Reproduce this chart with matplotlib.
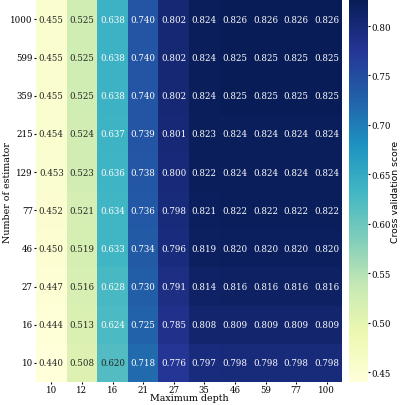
import numpy as np
import pandas as pd
import matplotlib
matplotlib.use("Agg")
import matplotlib.pyplot as plt
import seaborn as sns

# grid search results, rows from top (1000 estimators) to bottom (10)
n_estimators = [1000, 599, 359, 215, 129, 77, 46, 27, 16, 10]
max_depth = [10, 12, 16, 21, 27, 35, 46, 59, 77, 100]

scores = [
    [0.455, 0.525, 0.638, 0.740, 0.802, 0.824, 0.826, 0.826, 0.826, 0.826],
    [0.455, 0.525, 0.638, 0.740, 0.802, 0.824, 0.825, 0.825, 0.825, 0.825],
    [0.455, 0.525, 0.638, 0.740, 0.802, 0.824, 0.825, 0.825, 0.825, 0.825],
    [0.454, 0.524, 0.637, 0.739, 0.801, 0.823, 0.824, 0.824, 0.824, 0.824],
    [0.453, 0.523, 0.636, 0.738, 0.800, 0.822, 0.824, 0.824, 0.824, 0.824],
    [0.452, 0.521, 0.634, 0.736, 0.798, 0.821, 0.822, 0.822, 0.822, 0.822],
    [0.450, 0.519, 0.633, 0.734, 0.796, 0.819, 0.820, 0.820, 0.820, 0.820],
    [0.447, 0.516, 0.628, 0.730, 0.791, 0.814, 0.816, 0.816, 0.816, 0.816],
    [0.444, 0.513, 0.624, 0.725, 0.785, 0.808, 0.809, 0.809, 0.809, 0.809],
    [0.440, 0.508, 0.620, 0.718, 0.776, 0.797, 0.798, 0.798, 0.798, 0.798],
]

df = pd.DataFrame(scores, index=n_estimators, columns=max_depth)

plt.rcParams['font.family'] = ['DejaVu Serif']
fs = 6.2

fig = plt.figure(figsize=(4.0, 4.06), dpi=100)
ax = fig.add_axes([0.09, 0.0567, 0.765, 0.94])
cax = fig.add_axes([0.8725, 0.0567, 0.0475, 0.94])

sns.heatmap(df, ax=ax, cbar_ax=cax, cmap='YlGnBu', annot=True, fmt='.3f',
            annot_kws={'fontsize': fs})

ax.tick_params(axis='both', labelsize=fs, length=1.5, pad=0.8)
plt.setp(ax.get_yticklabels(), rotation=0)
ax.set_xlabel('Maximum depth', fontsize=6.8, labelpad=-0.5)
ax.set_ylabel('Number of estimator', fontsize=6.8)
ax.yaxis.set_label_coords(-0.078, 0.5)

cax.tick_params(labelsize=fs, length=1.5, pad=0.8)
cax.set_ylabel('Cross validation score', fontsize=6.7, family='DejaVu Sans')
cax.yaxis.set_label_coords(2.2, 0.5)

fig.savefig('out.png', dpi=100)
